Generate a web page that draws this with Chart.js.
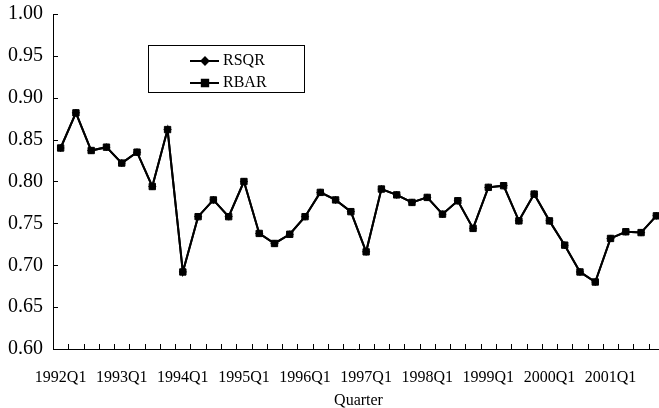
<!DOCTYPE html>
<html>
<head>
<meta charset="utf-8">
<script src="https://cdn.jsdelivr.net/npm/chart.js@4"></script>
<style>
  html, body { margin: 0; padding: 0; background: #fff; }
  #wrap { width: 659px; height: 408px; }
</style>
</head>
<body>
<div id="wrap"><canvas id="myChart"></canvas></div>
<script>
// quarters on the x axis
const quarters = [
  '1992Q1', '1992Q2', '1992Q3', '1992Q4', '1993Q1', '1993Q2', '1993Q3', '1993Q4',
  '1994Q1', '1994Q2', '1994Q3', '1994Q4', '1995Q1', '1995Q2', '1995Q3', '1995Q4',
  '1996Q1', '1996Q2', '1996Q3', '1996Q4', '1997Q1', '1997Q2', '1997Q3', '1997Q4',
  '1998Q1', '1998Q2', '1998Q3', '1998Q4', '1999Q1', '1999Q2', '1999Q3', '1999Q4',
  '2000Q1', '2000Q2', '2000Q3', '2000Q4', '2001Q1', '2001Q2', '2001Q3', '2001Q4'
];
// only these get a label under the axis
const shownQuarters = ['1992Q1', '1993Q1', '1994Q1', '1995Q1', '1996Q1', '1997Q1', '1998Q1', '1999Q1', '2000Q1', '2001Q1'];

// RSQR sits right under RBAR in the picture
const rsqr = [
  0.840, 0.882, 0.837, 0.841, 0.822, 0.835, 0.794, 0.862,
  0.692, 0.758, 0.778, 0.758, 0.800, 0.738, 0.726, 0.737,
  0.758, 0.787, 0.778, 0.764, 0.716, 0.791, 0.784, 0.775,
  0.781, 0.761, 0.777, 0.744, 0.793, 0.795, 0.753, 0.785,
  0.753, 0.724, 0.692, 0.680, 0.732, 0.740, 0.739, 0.759
];
const rbar = [
  0.840, 0.882, 0.837, 0.841, 0.822, 0.835, 0.794, 0.862,
  0.692, 0.758, 0.778, 0.758, 0.800, 0.738, 0.726, 0.737,
  0.758, 0.787, 0.778, 0.764, 0.716, 0.791, 0.784, 0.775,
  0.781, 0.761, 0.777, 0.744, 0.793, 0.795, 0.753, 0.785,
  0.753, 0.724, 0.692, 0.680, 0.732, 0.740, 0.739, 0.759
];

const yMin = 0.60, yMax = 1.00, yStep = 0.05;
const serif = '"Liberation Serif", "Times New Roman", serif';

// the original plot runs a few px past the right edge of the picture
const stretchX = {
  id: 'stretchX',
  afterLayout(chart) {
    const x = chart.scales.x, extra = 5;
    x.right += extra;
    x.width += extra;
    x.configure();
    chart.chartArea.right += extra;
    chart.chartArea.width += extra;
  }
};

// tick marks pointing inward, like the original
const innerTicks = {
  id: 'innerTicks',
  beforeDatasetsDraw(chart) {
    const ctx = chart.ctx, x = chart.scales.x, y = chart.scales.y;
    const step = x.getPixelForValue(1) - x.getPixelForValue(0);
    ctx.save();
    ctx.strokeStyle = '#000';
    ctx.lineWidth = 1;
    ctx.beginPath();
    for (let i = 0; i <= quarters.length; i++) {
      const px = Math.round(x.getPixelForValue(i) - step / 2) + 0.5;
      ctx.moveTo(px, x.top);
      ctx.lineTo(px, x.top - 5);
    }
    y.ticks.forEach((t, i) => {
      const py = Math.round(y.getPixelForTick(i)) + 0.5;
      ctx.moveTo(y.right, py);
      ctx.lineTo(y.right + 5, py);
    });
    ctx.stroke();
    ctx.restore();
  }
};

// boxed legend inside the plot
const boxLegend = {
  id: 'boxLegend',
  afterDraw(chart) {
    const ctx = chart.ctx, a = chart.chartArea;
    const bx = a.left + 95, by = a.top + 31, bw = 156, bh = 47;
    ctx.save();
    ctx.strokeStyle = '#000';
    ctx.lineWidth = 1;
    ctx.strokeRect(bx + 0.5, by + 0.5, bw, bh);
    ctx.font = '16px ' + serif;
    ctx.textBaseline = 'middle';
    ctx.fillStyle = '#000';
    chart.data.datasets.forEach((ds, i) => {
      const ly = by + 16 + i * 22;
      ctx.lineWidth = 2;
      ctx.beginPath();
      ctx.moveTo(bx + 42, ly);
      ctx.lineTo(bx + 71, ly);
      ctx.stroke();
      Chart.helpers.drawPoint(ctx, {
        pointStyle: ds.pointStyle, radius: ds.pointRadius, borderWidth: 1
      }, bx + 57, ly);
      ctx.fillText(ds.label, bx + 75, ly);
    });
    ctx.restore();
  }
};

new Chart('myChart', {
  type: 'line',
  data: {
    labels: quarters,
    datasets: [{
      label: 'RSQR',
      data: rsqr,
      borderColor: '#000',
      backgroundColor: '#000',
      borderWidth: 2,
      pointStyle: 'rectRot',
      pointRadius: 3.5,
      pointBorderWidth: 1,
      order: 2,
      fill: false
    }, {
      label: 'RBAR',
      data: rbar,
      borderColor: '#000',
      backgroundColor: '#000',
      borderWidth: 2,
      pointStyle: 'rect',
      pointRadius: 4.5,
      pointBorderWidth: 1,
      order: 1,
      fill: false
    }]
  },
  options: {
    responsive: true,
    maintainAspectRatio: false,
    animation: false,
    layout: { autoPadding: false, padding: { top: 14, right: 0, bottom: 0, left: 0 } },
    plugins: {
      legend: { display: false },
      tooltip: { enabled: false }
    },
    scales: {
      x: {
        offset: true,
        grid: { display: false, drawTicks: false },
        border: { display: true, color: '#000', width: 1 },
        afterFit(scale) {
          scale.height = 59;
          scale.paddingLeft = 0;
          scale.paddingRight = 0;
        },
        ticks: {
          autoSkip: false,
          maxRotation: 0,
          padding: 19,
          color: '#000',
          font: { family: serif, size: 16 },
          callback(v, i) {
            const q = quarters[i];
            return shownQuarters.includes(q) ? q : '';
          }
        },
        title: {
          display: true,
          text: 'Quarter',
          color: '#000',
          padding: { top: 0, bottom: -2 },
          font: { family: serif, size: 16 }
        }
      },
      y: {
        min: yMin,
        max: yMax,
        grid: { display: false, drawTicks: false },
        border: { display: true, color: '#000', width: 1 },
        afterFit(scale) {
          scale.width = 53;
          scale.paddingTop = 0;
          scale.paddingBottom = 0;
        },
        ticks: {
          stepSize: yStep,
          padding: 10,
          color: '#000',
          font: { family: serif, size: 20 },
          callback(v) { return v.toFixed(2); }
        }
      }
    }
  },
  plugins: [stretchX, innerTicks, boxLegend]
});
</script>
</body>
</html>
